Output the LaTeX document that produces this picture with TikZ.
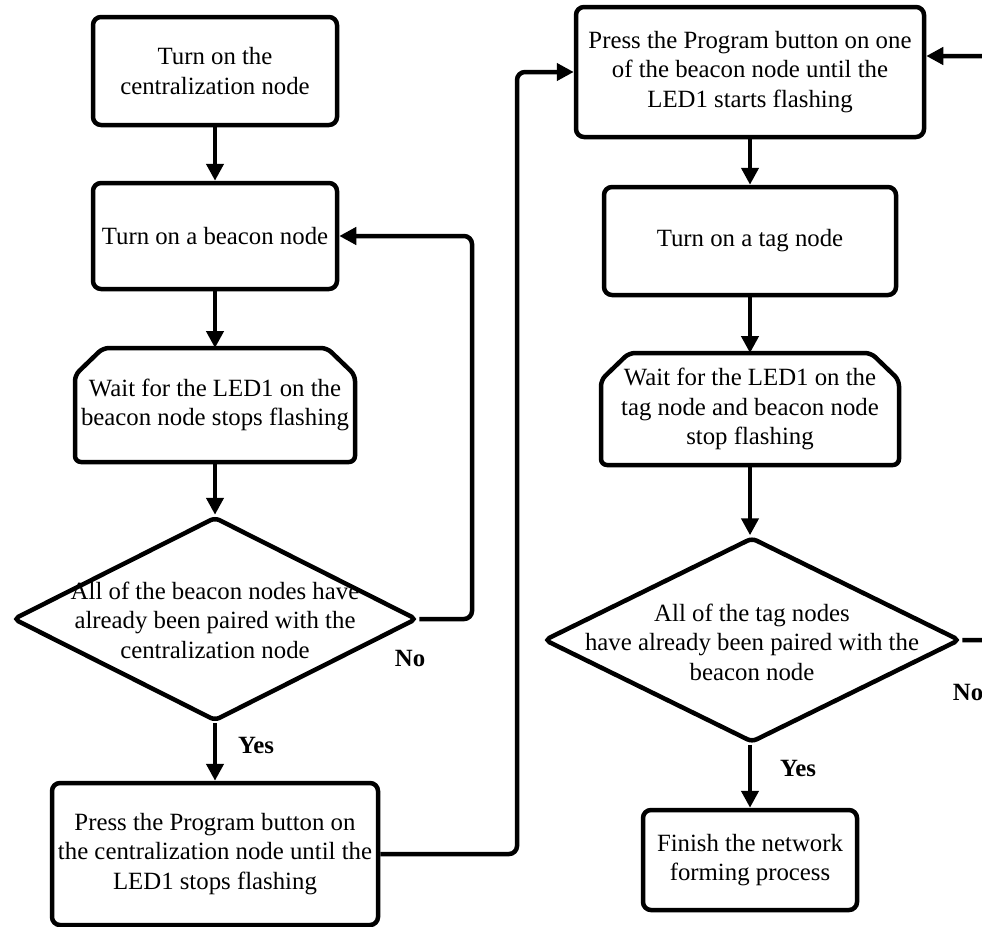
\documentclass[tikz,border=0pt]{standalone}
\usepackage{fontspec}
\setmainfont{Liberation Serif}
\usetikzlibrary{arrows.meta,shapes.geometric}
\begin{document}
\begin{tikzpicture}[x=1pt,y=-1pt,
  every node/.style={font=\fontsize{24.8}{29.5}\selectfont, align=center},
  box/.style={draw, line width=4.5pt, rounded corners=8pt, inner sep=0pt},
  frame/.style={inner sep=0pt, outer sep=0pt},
  outline/.style={draw, line width=4.5pt, rounded corners=6pt, line join=round},
  dia/.style={draw, diamond, line width=4.5pt, inner sep=0pt, rounded corners=5pt},
  flow/.style={line width=4.5pt, -{Triangle[length=17pt,width=17pt]}},
  answer/.style={font=\fontsize{24.8}{29.5}\selectfont\bfseries}
]
\useasboundingbox (0,0) rectangle (982,926);
\clip (0,0) rectangle (982,926);

% ---- left column ----
\node[box, minimum width=244pt, minimum height=108pt] (b1) at (215,71)
  {Turn on the\\centralization node};
\node[box, minimum width=244pt, minimum height=106pt] (b2) at (215,236)
  {Turn on a beacon node};
\node[frame, minimum width=280pt, minimum height=114pt] (h1) at (215,405)
  {Wait for the LED1 on the\\beacon node stops flashing};
\draw[outline] ([yshift=-27pt]h1.north west) -- ([xshift=28pt]h1.north west)
  -- ([xshift=-28pt]h1.north east) -- ([yshift=-27pt]h1.north east)
  -- (h1.south east) -- (h1.south west) -- cycle;
\node[dia, minimum width=404pt, minimum height=204pt] (d1) at (215,619) {};
\node (d1t) at (215,620)
  {All of the beacon nodes have\\already been paired with the\\centralization node};
\node[box, minimum width=326pt, minimum height=142pt] (b4) at (215,854)
  {Press the Program button on\\the centralization node until the\\LED1 stops flashing};

% ---- right column ----
\node[box, minimum width=348pt, minimum height=130pt] (b5) at (750,72)
  {Press the Program button on one\\of the beacon node until the\\LED1 starts flashing};
\node[box, minimum width=292pt, minimum height=108pt] (b6) at (750,241)
  {Turn on a tag node};
\node[frame, minimum width=298pt, minimum height=112pt] (h2) at (750,409)
  {Wait for the LED1 on the\\tag node and beacon node\\stop flashing};
\draw[outline] ([yshift=-27pt]h2.north west) -- ([xshift=28pt]h2.north west)
  -- ([xshift=-28pt]h2.north east) -- ([yshift=-27pt]h2.north east)
  -- (h2.south east) -- (h2.south west) -- cycle;
\node[dia, minimum width=416pt, minimum height=205pt] (d2) at (752,640) {};
\node (d2t) at (752,642)
  {All of the tag nodes\\have already been paired with the\\beacon node};
\node[box, minimum width=214pt, minimum height=100pt] (b7) at (750,860)
  {Finish the network\\forming process};

% ---- connectors ----
\draw[flow] (b1) -- (b2);
\draw[flow] (b2) -- (h1);
\draw[flow] (h1) -- (d1);
\draw[flow] (d1) -- (b4);
\draw[flow, rounded corners=8pt] (d1.east) -- (472,619) -- (472,236) -- (b2.east);
\draw[flow, rounded corners=8pt] (b4.east) -- (517,854) -- (517,72) -- (b5.west);

\draw[flow] (b5) -- (b6);
\draw[flow] (b6) -- (h2);
\draw[flow] (h2.south) -- (h2.south |- d2.north);
\draw[flow] (d2.south -| b7.north) -- (b7.north);
\coordinate (rt) at (1000,56);
\draw[flow, rounded corners=8pt] (d2.east) -- (d2.east -| rt) -- (rt) -- (b5.east |- rt);

% ---- branch labels ----
\node[answer] (no1) at (410,658) {No};
\node[answer] (yes1) at (256,745) {Yes};
\node[answer] (yes2) at (798,768) {Yes};
\node[answer] (no2) at (968,692) {No};
\end{tikzpicture}
\end{document}
